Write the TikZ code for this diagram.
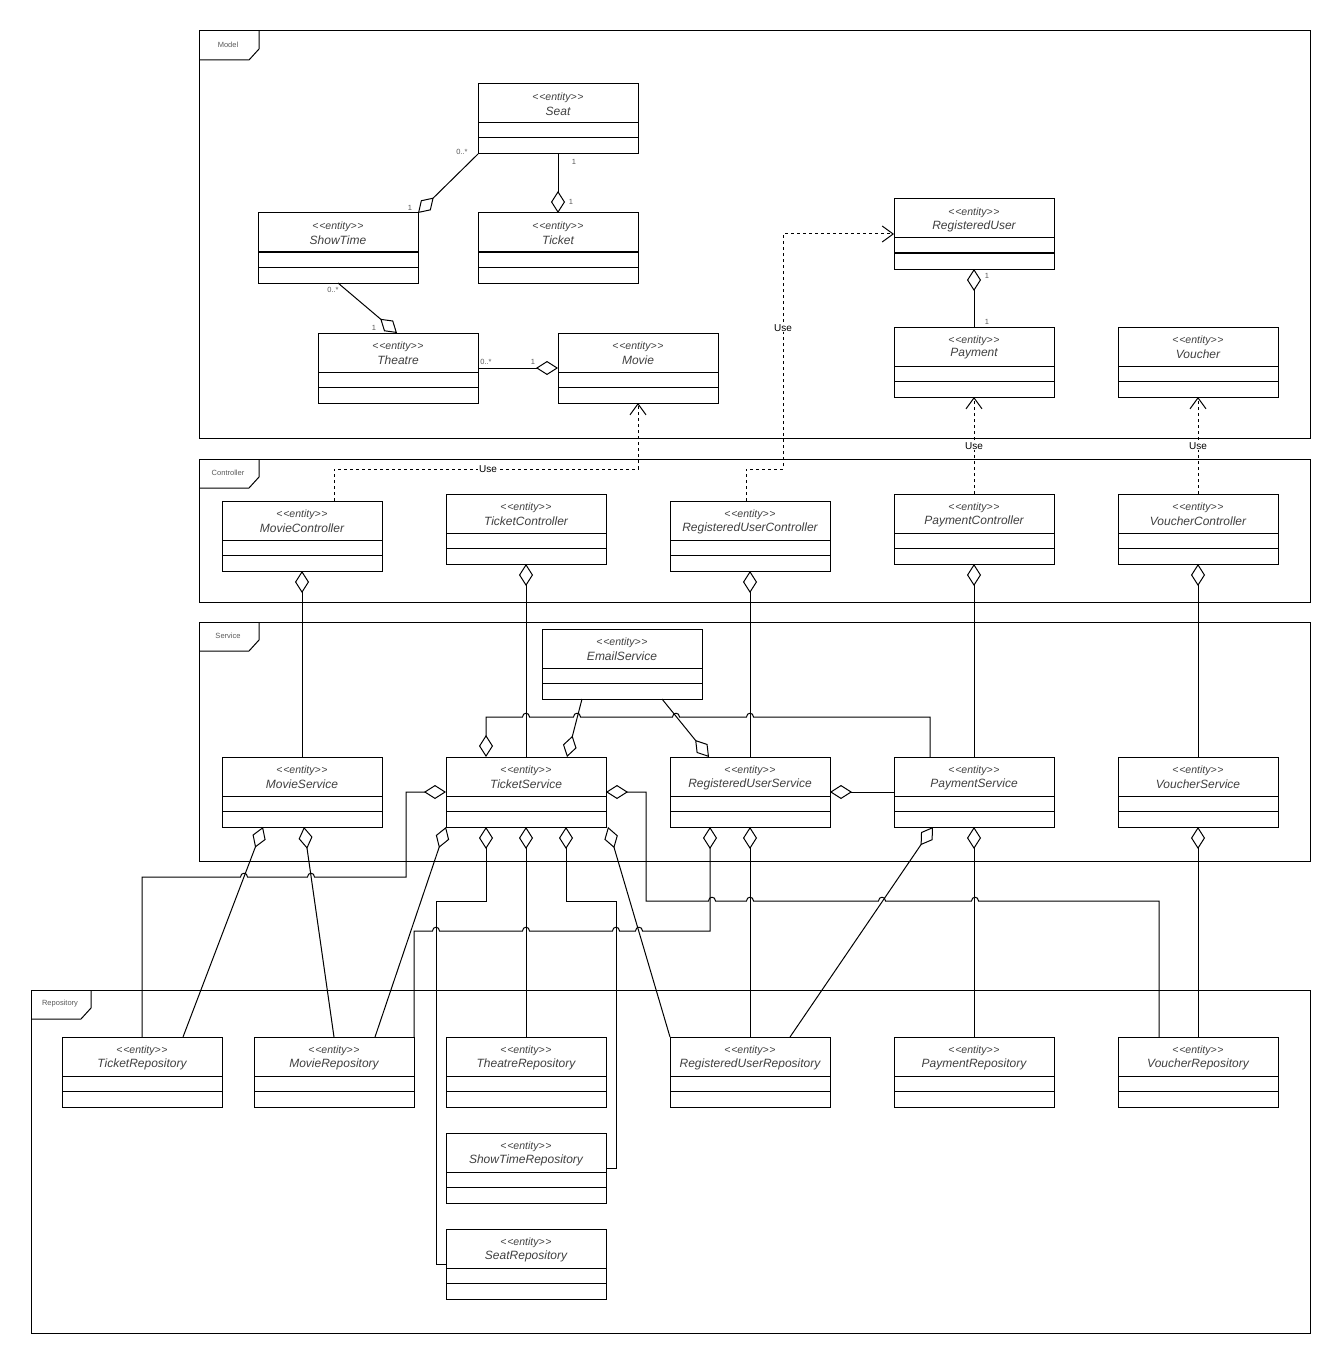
\documentclass[tikz,border=0pt]{standalone}
\usepackage{fontspec}
\newfontfamily\umlfont{Liberation Sans}
\usetikzlibrary{arrows.meta}

% stereotype text, with the doubled angle brackets kept apart
\newcommand\stereo{<\kern0.8pt<entity>\kern0.8pt>}

% a small upward jump of a horizontal line over a crossing line at (x,y)
\newcommand\hop[2]{-- (#1-3.5,#2) .. controls (#1-3.5,#2-5) and (#1+3.5,#2-5) .. (#1+3.5,#2)}

\tikzset{
  cls/.style={draw, line width=1pt, minimum width=160pt, minimum height=70pt,
              inner sep=0pt, outer sep=0pt},
  ster/.style={font=\umlfont\itshape\fontsize{10.5}{11}\selectfont, text=black!75, inner sep=0pt},
  cname/.style={font=\umlfont\itshape\fontsize{12}{13}\selectfont, text=black!75, inner sep=0pt},
  mult/.style={font=\umlfont\fontsize{7.5}{8}\selectfont, text=black!65, inner sep=0pt},
  flabel/.style={font=\umlfont\fontsize{7.5}{8}\selectfont, text=black!65, inner sep=0pt},
  uselbl/.style={font=\umlfont\fontsize{10}{11}\selectfont, fill=white, inner sep=1pt},
  conn/.style={line width=1pt},
  agg/.style={line width=1pt, -{Diamond[open, length=22pt, width=14pt, line width=1pt]}},
  aggstart/.style={line width=1pt, {Diamond[open, length=22pt, width=14pt, line width=1pt]}-},
  dep/.style={line width=1pt, dash pattern=on 3pt off 3pt,
              -{Straight Barb[length=11pt, width=16pt, line width=1pt]}},
}

% class box: node name, left x, top y, class name
\newcommand\umlclass[4]{%
  \node[cls, anchor=north west] (#1) at (#2,#3) {};
  \draw[conn] ([yshift=-39pt]#1.north west) -- ([yshift=-39pt]#1.north east);
  \draw[conn] ([yshift=-54pt]#1.north west) -- ([yshift=-54pt]#1.north east);
  \node[ster] at ([yshift=-14pt]#1.north) {\stereo};
  \node[cname] at ([yshift=-27pt]#1.north) {#4};
}

% package frame: left, top, right, bottom, label
\newcommand\pkgframe[5]{%
  \draw[conn] (#1,#2) rectangle (#3,#4);
  \draw[conn] (#1+60,#2) -- (#1+60,#2+18) -- (#1+50,#2+29) -- (#1,#2+29);
  \node[flabel] at (#1+29,#2+14) {#5};
}

\begin{document}
\begin{tikzpicture}[x=1pt,y=-1pt]
\fill[white] (0,0) rectangle (1342,1364);
\useasboundingbox (0,0) rectangle (1342,1364);

% ---------- packages ----------
\pkgframe{199}{31}{1310}{438}{Model}
\pkgframe{199}{459}{1310}{602}{Controller}
\pkgframe{199}{622}{1310}{861}{Service}
\pkgframe{31}{990}{1310}{1333}{Repository}

% ---------- model ----------
\umlclass{Seat}{478}{84}{Seat}
\umlclass{ShowTime}{258}{213}{ShowTime}
\umlclass{Ticket}{478}{213}{Ticket}
\umlclass{Theatre}{318}{333}{Theatre}
\umlclass{Movie}{558}{333}{Movie}
\umlclass{RegisteredUser}{894}{199}{RegisteredUser}
\umlclass{Payment}{894}{327}{Payment}
\umlclass{Voucher}{1118}{327}{Voucher}

% ---------- controllers ----------
\umlclass{MovieController}{222}{501}{MovieController}
\umlclass{TicketController}{446}{494}{TicketController}
\umlclass{RegisteredUserController}{670}{501}{RegisteredUserController}
\umlclass{PaymentController}{894}{494}{PaymentController}
\umlclass{VoucherController}{1118}{494}{VoucherController}

% ---------- services ----------
\umlclass{EmailService}{542}{629}{EmailService}
\umlclass{MovieService}{222}{757}{MovieService}
\umlclass{TicketService}{446}{757}{TicketService}
\umlclass{RegisteredUserService}{670}{757}{RegisteredUserService}
\umlclass{PaymentService}{894}{757}{PaymentService}
\umlclass{VoucherService}{1118}{757}{VoucherService}

% ---------- repositories ----------
\umlclass{TicketRepository}{62}{1037}{TicketRepository}
\umlclass{MovieRepository}{254}{1037}{MovieRepository}
\umlclass{TheatreRepository}{446}{1037}{TheatreRepository}
\umlclass{RegisteredUserRepository}{670}{1037}{RegisteredUserRepository}
\umlclass{PaymentRepository}{894}{1037}{PaymentRepository}
\umlclass{VoucherRepository}{1118}{1037}{VoucherRepository}
\umlclass{ShowTimeRepository}{446}{1133}{ShowTimeRepository}
\umlclass{SeatRepository}{446}{1229}{SeatRepository}

% ---------- model associations ----------
\draw[agg] (Seat.south west) -- (ShowTime.north east);
\node[mult] at (462,152) {0..*};
\node[mult] at (410,208) {1};
\draw[agg] (Seat.south) -- (Ticket.north);
\node[mult] at (574,162) {1};
\node[mult] at (571,202) {1};
\draw[agg] ([xshift=80pt]ShowTime.south west) -- ([xshift=79pt]Theatre.north west);
\node[mult] at (333,290) {0..*};
\node[mult] at (374,328) {1};
\draw[agg] (Theatre.east) -- (Movie.west);
\node[mult] at (486,362) {0..*};
\node[mult] at (533,362) {1};
\draw[agg] (Payment.north) -- (RegisteredUser.south);
\node[mult] at (987,276) {1};
\node[mult] at (987,322) {1};

% ---------- dependencies ----------
\draw[dep] ([xshift=112pt]MovieController.north west) -- ++(0,-32) -| (Movie.south);
\node[uselbl] at (488,469) {Use};
\draw[dep] ([xshift=76pt]RegisteredUserController.north west) -- ++(0,-32) -- ++(37,0) |- (RegisteredUser.west);
\node[uselbl] at (783,328) {Use};
\draw[dep] (PaymentController.north) -- (Payment.south);
\node[uselbl] at (974,446) {Use};
\draw[dep] (VoucherController.north) -- (Voucher.south);
\node[uselbl] at (1198,446) {Use};

% ---------- controllers to services ----------
\draw[agg] (MovieService.north) -- (MovieController.south);
\draw[agg] (TicketService.north) -- (TicketController.south);
\draw[agg] (RegisteredUserService.north) -- (RegisteredUserController.south);
\draw[agg] (PaymentService.north) -- (PaymentController.south);
\draw[agg] (VoucherService.north) -- (VoucherController.south);

% ---------- inside the service layer ----------
\draw[agg] ([xshift=40pt]EmailService.south west) -- ([xshift=121pt]TicketService.north west);
\draw[agg] ([xshift=120pt]EmailService.south west) -- ([xshift=39pt]RegisteredUserService.north west);
\draw[aggstart] ([xshift=40pt]TicketService.north west) -- (486,717)
  \hop{526}{717} \hop{577}{717} \hop{676}{717} \hop{750}{717}
  -- (930,717) -- ([xshift=36pt]PaymentService.north west);
\draw[agg] (PaymentService.west) -- (RegisteredUserService.east);

% ---------- services to repositories ----------
\draw[agg] (TicketRepository.north) -- (142,877) \hop{244}{877} \hop{311}{877}
  -- (406,877) -- (406,792) -- (TicketService.west);
\draw[aggstart] (TicketService.east) -- (646,792) -- (646,901)
  \hop{712}{901} \hop{750}{901} \hop{882}{901} \hop{975}{901}
  -- (1159,901) -- ([xshift=41pt]VoucherRepository.north west);
\draw[aggstart] (TicketService.south west) -- ([xshift=121pt]MovieRepository.north west);
\draw[aggstart] ([xshift=40pt]TicketService.south west) -- (486,901) -- (436,901) |- (SeatRepository.west);
\draw[aggstart] (TicketService.south) -- (TheatreRepository.north);
\draw[aggstart] ([xshift=120pt]TicketService.south west) -- (566,901) -- (616,901) |- (ShowTimeRepository.east);
\draw[aggstart] ([xshift=2pt]TicketService.south east) -- (RegisteredUserRepository.north west);

\draw[agg] (MovieRepository.north east) -- (414,931)
  \hop{436}{931} \hop{526}{931} \hop{616}{931} \hop{639}{931}
  -- (710,931) -- ([xshift=40pt]RegisteredUserService.south west);
\draw[aggstart] (RegisteredUserService.south) -- (RegisteredUserRepository.north);

\draw[aggstart] ([xshift=41pt]MovieService.south west) -- ([xshift=121pt]TicketRepository.north west);
\draw[aggstart] ([xshift=82pt]MovieService.south west) -- ([xshift=80pt]MovieRepository.north west);

\draw[aggstart] ([xshift=39pt]PaymentService.south west) -- ([xshift=120pt]RegisteredUserRepository.north west);
\draw[aggstart] (PaymentService.south) -- (PaymentRepository.north);
\draw[aggstart] (VoucherService.south) -- (VoucherRepository.north);
\end{tikzpicture}
\end{document}
